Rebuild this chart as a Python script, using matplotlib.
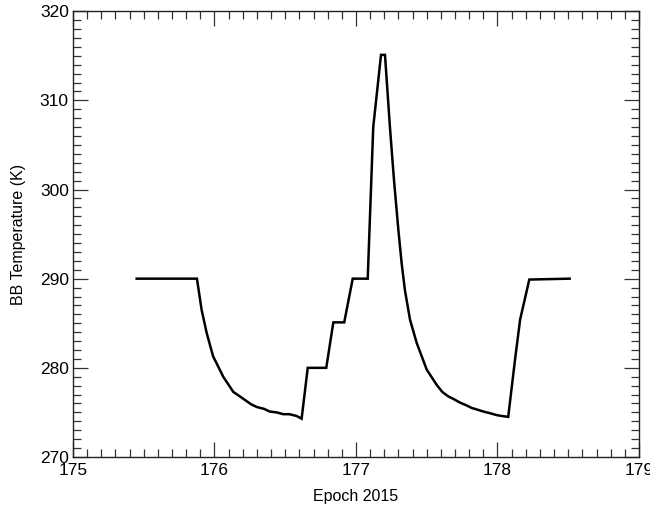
import matplotlib
matplotlib.use("Agg")
import matplotlib.pyplot as plt
from matplotlib.ticker import MultipleLocator

plt.rcParams["font.family"] = ["Liberation Sans", "DejaVu Sans"]

# values
epoch = [175.45, 175.876, 175.909, 175.945, 175.99, 176.062, 176.133, 176.17, 176.215,
         176.26, 176.30, 176.35, 176.39, 176.44, 176.486, 176.53, 176.58, 176.616,
         176.659, 176.79, 176.84, 176.917, 176.977, 177.083, 177.122, 177.177,
         177.205, 177.24, 177.269, 177.30, 177.323, 177.346, 177.382, 177.429,
         177.50, 177.57, 177.61, 177.652, 177.69, 177.735, 177.78, 177.818, 177.86,
         177.90, 177.95, 177.994, 178.03, 178.076, 178.124, 178.16, 178.225, 178.51]
bb_temp = [290.0, 290.0, 286.5, 283.9, 281.3, 279.0, 277.3, 276.9, 276.4,
           275.9, 275.6, 275.4, 275.1, 275.0, 274.8, 274.8, 274.6, 274.3,
           280.0, 280.0, 285.1, 285.1, 290.0, 290.0, 307.0, 315.1,
           315.1, 307.0, 301.0, 295.4, 291.7, 288.7, 285.4, 282.8,
           279.8, 278.1, 277.3, 276.8, 276.5, 276.1, 275.8, 275.5, 275.3,
           275.1, 274.9, 274.7, 274.6, 274.5, 280.9, 285.4, 289.9, 290.0]

fig = plt.figure(figsize=(6.5, 5.08), dpi=100)
ax = fig.add_axes([0.1123, 0.1004, 0.8707, 0.8776])

ax.plot(epoch, bb_temp, color="black", lw=1.8, solid_joinstyle="miter")

ax.set_xlim(175, 179)
ax.set_ylim(270, 320)
ax.xaxis.set_major_locator(MultipleLocator(1))
ax.xaxis.set_minor_locator(MultipleLocator(0.1))
ax.yaxis.set_major_locator(MultipleLocator(10))
ax.yaxis.set_minor_locator(MultipleLocator(1))
ax.tick_params(which="both", direction="in", top=True, right=True,
               labelsize=12.5, width=0.9, color="#333333")
ax.tick_params(which="major", length=11)
ax.tick_params(which="minor", length=6)
ax.tick_params(axis="x", which="both", pad=4)
ax.tick_params(axis="y", which="both", pad=3)
for sp in ax.spines.values():
    sp.set_linewidth(1.0)
    sp.set_color("#222222")

ax.set_xlabel("Epoch 2015", fontsize=11.5, labelpad=8)
ax.set_ylabel("BB Temperature (K)", fontsize=11.5, labelpad=10)

fig.savefig("out.png", dpi=100)
